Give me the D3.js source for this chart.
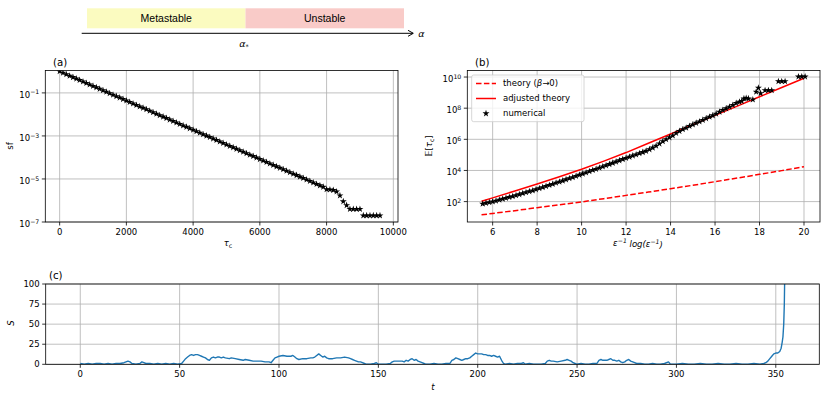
<!DOCTYPE html>
<html>
<head>
<meta charset="utf-8">
<script src="https://cdn.jsdelivr.net/npm/d3@7"></script>
<style>
body { margin: 0; background: #fff; }
text { font-family: "DejaVu Sans", sans-serif; font-size: 8.5px; fill: #000; }
</style>
</head>
<body>
<div id="chart"></div>
<script>

// --> DATA
// (a) survival function of the collapse time
var sfTau = [0,100,200,300,400,500,600,700,800,900,
    1000,1100,1200,1300,1400,1500,1600,1700,1800,1900,
    2000,2100,2200,2300,2400,2500,2600,2700,2800,2900,
    3000,3100,3200,3300,3400,3500,3600,3700,3800,3900,
    4000,4100,4200,4300,4400,4500,4600,4700,4800,4900,
    5000,5100,5200,5300,5400,5500,5600,5700,5800,5900,
    6000,6100,6200,6300,6400,6500,6600,6700,6800,6900,
    7000,7100,7200,7300,7400,7500,7600,7700,7800,7900,
    8000,8100,8200,8300,8400,8500,8600,8700,8800,8900,
    9000,9100,9200,9300,9400,9500,9600];
var sfVal = [1.0,0.855,0.731,0.625,0.535,0.457,0.391,0.334,0.286,0.244,
    0.209,0.179,0.153,0.131,0.112,9.55e-2,8.17e-2,6.98e-2,5.97e-2,5.11e-2,
    4.37e-2,3.73e-2,3.19e-2,2.73e-2,2.33e-2,2.00e-2,1.71e-2,1.46e-2,1.25e-2,1.07e-2,
    9.12e-3,7.80e-3,6.67e-3,5.70e-3,4.88e-3,4.17e-3,3.56e-3,3.05e-3,2.61e-3,2.23e-3,
    1.91e-3,1.63e-3,1.39e-3,1.19e-3,1.02e-3,8.71e-4,7.45e-4,6.37e-4,5.45e-4,4.66e-4,
    3.98e-4,3.40e-4,2.91e-4,2.49e-4,2.13e-4,1.82e-4,1.56e-4,1.33e-4,1.14e-4,9.73e-5,
    8.32e-5,7.11e-5,6.08e-5,5.20e-5,4.45e-5,3.80e-5,3.25e-5,2.78e-5,2.38e-5,2.03e-5,
    1.74e-5,1.49e-5,1.27e-5,1.09e-5,9.29e-6,7.94e-6,6.79e-6,5.81e-6,4.97e-6,4.25e-6,
    3.3e-6,3.2e-6,3.0e-6,2.6e-6,1.7e-6,9e-7,6e-7,4e-7,4e-7,4e-7,
    4e-7,2e-7,2e-7,2e-7,2e-7,2e-7,2e-7];

// (b) mean collapse time vs eps^-1 log(eps^-1)
var thX = [5.5,6,7,8,9,10,11,12,13,14,15,16,17,18,19,20];
var thBeta0 = [14.1,17.4,26.3,40.7,61.7,95.5,155,251,407,676,1122,1905,3236,5623,9772,17378];
var thAdj = [105,174,479,1349,3981,1.20e4,3.98e4,1.41e5,5.62e5,2.19e6,8.71e6,3.47e7,1.35e8,5.37e8,2.14e9,8.32e9];

var numX = [5.55,5.70,5.85,6.00,6.15,6.30,6.45,6.60,6.75,6.90,
    7.05,7.20,7.35,7.50,7.65,7.80,7.95,8.10,8.25,8.40,
    8.55,8.70,8.85,9.00,9.15,9.30,9.45,9.60,9.75,9.90,
    10.05,10.20,10.35,10.50,10.65,10.80,10.95,11.10,11.25,11.40,
    11.55,11.70,11.85,12.00,12.15,12.30,12.45,12.60,12.75,12.90,
    13.05,13.20,13.35,13.50,13.65,13.80,13.95,14.10,14.25,14.40,
    14.55,14.70,14.85,15.00,15.15,15.30,15.45,15.60,15.75,15.90,
    16.05,16.20,16.35,16.50,16.65,16.80,16.95,
    17.10,17.20,17.30,17.40,17.50,17.70,17.85,17.95,18.05,18.25,18.40,18.55,18.85,19.00,19.15,19.75,19.90,20.05];
var numY = [72,81,89,100,112,129,148,170,191,219,
    251,288,339,389,447,513,603,708,832,977,
    1148,1349,1585,1862,2188,2630,3090,3631,4365,5129,
    6166,7244,8710,1.05e4,1.23e4,1.48e4,1.78e4,2.09e4,2.51e4,3.02e4,
    3.63e4,4.37e4,5.25e4,6.31e4,7.41e4,8.91e4,1.05e5,1.26e5,1.48e5,1.78e5,
    2.24e5,2.88e5,3.80e5,5.25e5,7.41e5,1.0e6,1.32e6,1.74e6,2.51e6,3.31e6,
    4.37e6,5.50e6,7.08e6,8.91e6,1.12e7,1.38e7,1.74e7,2.19e7,2.75e7,3.39e7,
    4.37e7,5.75e7,7.41e7,9.55e7,1.23e8,1.58e8,2.09e8,
    2.51e8,2.82e8,4.17e8,4.47e8,4.17e8,3.55e8,1.12e9,2.0e9,8.91e8,1.41e9,1.41e9,1.41e9,5.25e9,5.25e9,5.25e9,1.05e10,1.05e10,1.05e10];

// (c) one trajectory S(t)
var cTime = [0,2,4,6,8,10,12,14,16,18,20,22,23,24,25,26,28,30,31,32,33,35,37,39,41,43,45,47,49,51,
    52,53,54,55,56,57,58,59,60,61,62,63,64,65,66,67,68,69,70,71,72,73,75,76,78,80,82,83,85,87,89,91,93,95,96,97,98,99,
    100,102,104,106,107,108,109,110,112,114,116,117,118,119,120,121,122,123,124,125,127,129,131,133,135,136,137,138,139,140,141,142,143,144,146,148,149,
    150,152,154,156,157,158,160,162,163,164,165,166,167,168,169,170,171,172,173,174,176,178,180,182,184,186,187,188,189,190,191,192,193,194,195,196,197,198,199,
    200,201,202,203,204,205,206,207,208,209,210,211,212,213,214,216,218,220,222,223,224,226,228,230,232,234,235,236,237,238,240,242,244,245,246,247,248,249,
    250,252,254,256,258,260,261,262,263,265,266,267,268,269,270,271,272,273,274,275,276,277,278,279,280,282,284,286,288,290,292,294,296,297,
    300,303,306,309,312,315,318,321,324,327,330,333,336,339,342,344,345,346,347,348,349,350,351,352,352.7,353.2,353.6,354,354.3,354.5];
var cS = [1,0,1,0,1,1,0,1,0,1,1,2,3,4,3,1,0,1,3,2,1,1,0,1,0,1,0,1,0,1,
    4,7,9,11,12,11,12,12,11,10,9,8,6,5,8,9,8,9,9,8,9,8,7,8,7,6,5,6,5,4,4,4,3,3,2,5,8,9,
    10,11,10,10,11,9,7,6,7,7,8,8,9,11,13,11,9,10,8,7,7,8,8,9,8,7,6,5,4,3,3,2,1,0,0,1,2,
    0,0,0,1,3,4,4,4,3,5,4,6,7,5,6,4,3,2,1,0,0,1,0,0,1,1,5,6,8,7,6,5,6,7,7,8,10,12,14,
    13,13,13,12,12,11,11,10,11,10,9,10,5,1,0,1,0,1,1,2,0,1,0,0,0,1,4,5,4,4,3,4,5,6,5,4,2,1,
    0,1,0,0,1,1,5,6,5,5,6,7,5,5,4,5,3,2,3,5,6,4,3,2,1,1,0,0,1,0,0,1,3,0,
    0,1,0,0,1,0,0,1,0,0,1,0,0,1,0,1,2,4,7,10,13,14,14,16,20,27,34,50,75,110];

// tick values
var aXTicks = [0,2000,4000,6000,8000,10000];
var aYTicks = [1e-1,1e-3,1e-5,1e-7];
var bXTicks = [6,8,10,12,14,16,18,20];
var bYTicks = [1e2,1e4,1e6,1e8,1e10];
var cXTicks = [0,50,100,150,200,250,300,350];
var cYTicks = [0,25,50,75,100];

var legendLabels = ["theory (", "adjusted theory", "numerical"];
var phaseLabels = ["Metastable", "Unstable"];


// --> SVG DRAWING AREA
var width = 830,
    height = 400;

var svg = d3.select("#chart").append("svg")
    .attr("width", width)
    .attr("height", height);

var boxA = {l: 45.3, r: 398, t: 70.5, b: 222},
    boxB = {l: 467.3, r: 820, t: 70.5, b: 222},
    boxC = {l: 45.7, r: 819.3, t: 284, b: 364.3};

var xA = d3.scaleLinear().domain([-430, 10140]).range([boxA.l, boxA.r]);
var yA = d3.scaleLog().domain([1e-7, 1.1]).range([boxA.b, boxA.t]);
var xB = d3.scaleLinear().domain([4.86, 20.72]).range([boxB.l, boxB.r]);
var yB = d3.scaleLog().domain([Math.pow(10, 0.69), Math.pow(10, 10.42)]).range([boxB.b, boxB.t]);
var xC = d3.scaleLinear().domain([-17.4, 371.9]).range([boxC.l, boxC.r]);
var yC = d3.scaleLinear().domain([0, 100]).range([boxC.b, boxC.t]);

var minus = "\u2212";

// write 10^e as text with a superscript
function powLabel(sel, v) {
    var e = Math.round(Math.log10(v));
    sel.append("tspan").text("10");
    sel.append("tspan").attr("dy", "-0.5em").style("font-size", "6.2px")
        .text(e < 0 ? minus + (-e) : String(e));
}

// grid, ticks and tick labels of one panel
function drawFrame(name, box, x, y, xt, yt, yIsLog) {
    var g = svg.append("g").attr("class", "frame-" + name);

    g.selectAll(".vgrid").data(xt).enter().append("line")
        .attr("x1", function(d) { return x(d); }).attr("x2", function(d) { return x(d); })
        .attr("y1", box.t).attr("y2", box.b)
        .attr("stroke", "#b0b0b0").attr("stroke-width", 0.8);
    g.selectAll(".hgrid").data(yt).enter().append("line")
        .attr("x1", box.l).attr("x2", box.r)
        .attr("y1", function(d) { return y(d); }).attr("y2", function(d) { return y(d); })
        .attr("stroke", "#b0b0b0").attr("stroke-width", 0.8);

    // x ticks
    g.selectAll(".xtick").data(xt).enter().append("line")
        .attr("x1", function(d) { return x(d); }).attr("x2", function(d) { return x(d); })
        .attr("y1", box.b).attr("y2", box.b + 3.5)
        .attr("stroke", "#000").attr("stroke-width", 0.8);
    g.selectAll(".xlab").data(xt).enter().append("text")
        .attr("x", function(d) { return x(d); })
        .attr("y", box.b + 6.5)
        .attr("dy", "0.76em")
        .attr("text-anchor", "middle")
        .text(function(d) { return d; });

    // y ticks
    g.selectAll(".ytick").data(yt).enter().append("line")
        .attr("x1", box.l - 3.5).attr("x2", box.l)
        .attr("y1", function(d) { return y(d); }).attr("y2", function(d) { return y(d); })
        .attr("stroke", "#000").attr("stroke-width", 0.8);
    var yl = g.selectAll(".ylab").data(yt).enter().append("text")
        .attr("x", box.l - 6)
        .attr("y", function(d) { return y(d); })
        .attr("dy", yIsLog ? "0.55em" : "0.35em")
        .attr("text-anchor", "end");
    if (yIsLog) {
        yl.each(function(d) { powLabel(d3.select(this), d); });
    } else {
        yl.text(function(d) { return d; });
    }
    return g;
}

function drawSpines(box) {
    svg.append("rect")
        .attr("x", box.l).attr("y", box.t)
        .attr("width", box.r - box.l).attr("height", box.b - box.t)
        .attr("fill", "none").attr("stroke", "#000").attr("stroke-width", 0.8);
}

function clipFor(id, box) {
    svg.append("clipPath").attr("id", id).append("rect")
        .attr("x", box.l).attr("y", box.t)
        .attr("width", box.r - box.l).attr("height", box.b - box.t);
}

var star = d3.symbol().type(d3.symbolStar).size(15);


// --> TOP: metastable / unstable banner
var phaseX = d3.scaleLinear().domain([0, 2]).range([87, 404]);
var phaseFill = ["#fbfbc0", "#f9cbc8"];

svg.selectAll(".phase").data(phaseLabels).enter().append("rect")
    .attr("x", function(d, i) { return phaseX(i); })
    .attr("y", 8.3)
    .attr("width", phaseX(1) - phaseX(0))
    .attr("height", 20)
    .attr("fill", function(d, i) { return phaseFill[i]; });

svg.selectAll(".phaseText").data(phaseLabels).enter().append("text")
    .attr("x", function(d, i) { return phaseX(i + 0.5); })
    .attr("y", 18.5)
    .attr("dy", "0.35em")
    .attr("text-anchor", "middle")
    .style("font-family", "'Liberation Sans', Arial, sans-serif")
    .style("font-size", "10.5px")
    .text(function(d) { return d; });

svg.append("line")
    .attr("x1", 81.7).attr("x2", 413).attr("y1", 33.3).attr("y2", 33.3)
    .attr("stroke", "#000").attr("stroke-width", 1);
svg.append("path")
    .attr("d", "M408,30.3L413.3,33.3L408,36.3")
    .attr("fill", "none").attr("stroke", "#000").attr("stroke-width", 1);

svg.append("text").attr("x", 421.5).attr("y", 33.3).attr("dy", "0.35em")
    .attr("text-anchor", "middle").style("font-style", "italic").style("font-size", "9.5px")
    .text("\u03b1");
var aStar = svg.append("text").attr("x", 244).attr("y", 43.5).attr("dy", "0.35em")
    .attr("text-anchor", "middle").style("font-style", "italic").style("font-size", "9.5px");
aStar.append("tspan").text("\u03b1");
aStar.append("tspan").attr("dy", "0.3em").style("font-size", "6.5px").style("font-style", "normal").text("*");


// --> PANEL (a)
drawFrame("a", boxA, xA, yA, aXTicks, aYTicks, true);
clipFor("clipA", boxA);

svg.append("g").attr("clip-path", "url(#clipA)")
    .selectAll("path").data(sfTau).enter().append("path")
    .attr("d", star)
    .attr("transform", function(d, i) { return "translate(" + xA(d) + "," + yA(sfVal[i]) + ")"; })
    .attr("fill", "#000");

drawSpines(boxA);

svg.append("text").attr("x", 53).attr("y", 62).attr("dy", "0.35em")
    .style("font-size", "10.2px").text("(a)");
svg.append("text").attr("transform", "translate(10,146) rotate(-90)")
    .attr("text-anchor", "middle").attr("dy", "0.35em").text("sf");
var tauLab = svg.append("text").attr("x", 228).attr("y", 246).attr("text-anchor", "middle");
tauLab.append("tspan").style("font-style", "italic").text("\u03c4");
tauLab.append("tspan").attr("dy", "0.3em").style("font-size", "6.2px").text("c");


// --> PANEL (b)
drawFrame("b", boxB, xB, yB, bXTicks, bYTicks, true);
clipFor("clipB", boxB);

var lineB = d3.line()
    .x(function(d, i) { return xB(thX[i]); })
    .y(function(d) { return yB(d); });

var gB = svg.append("g").attr("clip-path", "url(#clipB)");

gB.append("path").datum(thBeta0)
    .attr("d", lineB)
    .attr("fill", "none").attr("stroke", "#ff0000").attr("stroke-width", 1.5)
    .attr("stroke-dasharray", "5.5,2.4");

gB.append("path").datum(thAdj)
    .attr("d", lineB)
    .attr("fill", "none").attr("stroke", "#ff0000").attr("stroke-width", 1.5);

gB.selectAll(".num").data(numX).enter().append("path")
    .attr("d", star)
    .attr("transform", function(d, i) { return "translate(" + xB(d) + "," + yB(numY[i]) + ")"; })
    .attr("fill", "#000");

drawSpines(boxB);

// legend
var leg = svg.append("g").attr("class", "legend");
leg.append("rect")
    .attr("x", 471.7).attr("y", 75).attr("width", 112.3).attr("height", 46.7)
    .attr("rx", 2).attr("fill", "#fff").attr("fill-opacity", 0.8)
    .attr("stroke", "#cccccc").attr("stroke-width", 0.8);

var legY = d3.scaleLinear().domain([0, 2]).range([83.5, 113.5]);

leg.append("line").attr("x1", 476).attr("x2", 496).attr("y1", legY(0)).attr("y2", legY(0))
    .attr("stroke", "#ff0000").attr("stroke-width", 1.5).attr("stroke-dasharray", "5.5,2.4");
leg.append("line").attr("x1", 476).attr("x2", 496).attr("y1", legY(1)).attr("y2", legY(1))
    .attr("stroke", "#ff0000").attr("stroke-width", 1.5);
leg.append("path").attr("d", star)
    .attr("transform", "translate(486," + legY(2) + ")").attr("fill", "#000");

var l0 = leg.append("text").attr("x", 503).attr("y", legY(0)).attr("dy", "0.35em");
l0.append("tspan").text(legendLabels[0]);
l0.append("tspan").style("font-style", "italic").text("\u03b2");
l0.append("tspan").text("\u21920)");
leg.append("text").attr("x", 503).attr("y", legY(1)).attr("dy", "0.35em").text(legendLabels[1]);
leg.append("text").attr("x", 503).attr("y", legY(2)).attr("dy", "0.35em").text(legendLabels[2]);

svg.append("text").attr("x", 475).attr("y", 62).attr("dy", "0.35em")
    .style("font-size", "10.2px").text("(b)");

var eLab = svg.append("text").attr("transform", "translate(429.5,146) rotate(-90)")
    .attr("text-anchor", "middle").attr("dy", "0.35em");
eLab.append("tspan").text("\ud835\udd3c[");
eLab.append("tspan").style("font-style", "italic").text("\u03c4");
eLab.append("tspan").attr("dy", "0.3em").style("font-size", "6.2px").text("c");
eLab.append("tspan").attr("dy", "-0.3em").text("]");

var xbLab = svg.append("text").attr("x", 638).attr("y", 246)
    .attr("text-anchor", "middle").style("font-style", "italic");
xbLab.append("tspan").text("\u03b5");
xbLab.append("tspan").attr("dy", "-0.5em").style("font-size", "6.2px").text(minus + "1");
xbLab.append("tspan").attr("dy", "0.5em").text(" log(\u03b5");
xbLab.append("tspan").attr("dy", "-0.5em").style("font-size", "6.2px").text(minus + "1");
xbLab.append("tspan").attr("dy", "0.5em").text(")");


// --> PANEL (c)
drawFrame("c", boxC, xC, yC, cXTicks, cYTicks, false);
clipFor("clipC", boxC);

var lineC = d3.line()
    .x(function(d, i) { return xC(cTime[i]); })
    .y(function(d) { return yC(d); });

svg.append("g").attr("clip-path", "url(#clipC)")
    .append("path").datum(cS)
    .attr("d", lineC)
    .attr("fill", "none").attr("stroke", "#1f77b4").attr("stroke-width", 1.4)
    .attr("stroke-linejoin", "round");

drawSpines(boxC);

svg.append("text").attr("x", 49).attr("y", 275.5).attr("dy", "0.35em")
    .style("font-size", "10.2px").text("(c)");
svg.append("text").attr("transform", "translate(11.5,323) rotate(-90)")
    .attr("text-anchor", "middle").attr("dy", "0.35em").style("font-style", "italic").text("S");
svg.append("text").attr("x", 433).attr("y", 387.5).attr("dy", "0.35em")
    .attr("text-anchor", "middle").style("font-style", "italic").text("t");

</script>
</body>
</html>
